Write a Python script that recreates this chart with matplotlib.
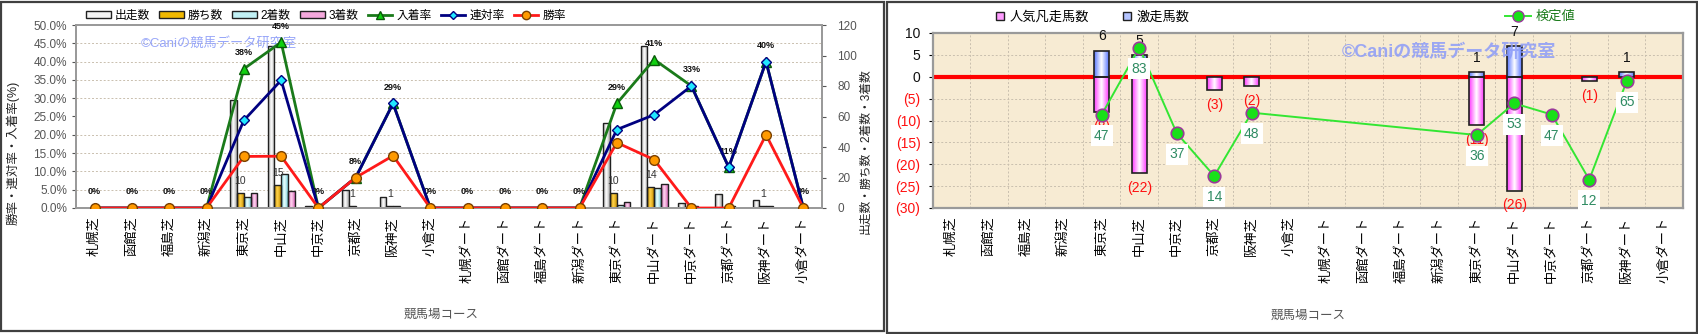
import numpy as np
import matplotlib
matplotlib.use('Agg')
import matplotlib.pyplot as plt
from matplotlib.patches import Patch, Rectangle
from matplotlib.lines import Line2D
from matplotlib.colors import LinearSegmentedColormap
from matplotlib.ticker import MultipleLocator, PercentFormatter, FuncFormatter

plt.rcParams['font.family'] = ['Liberation Sans', 'Noto Sans CJK JP', 'DejaVu Sans']

# コース名
courses = ['札幌芝', '函館芝', '福島芝', '新潟芝', '東京芝', '中山芝', '中京芝', '京都芝', '阪神芝', '小倉芝',
           '札幌ダート', '函館ダート', '福島ダート', '新潟ダート', '東京ダート', '中山ダート', '中京ダート',
           '京都ダート', '阪神ダート', '小倉ダート']

# 左: 出走数・着順
starts = [0, 0, 0, 0, 71, 106, 1, 12, 7, 0, 0, 0, 0, 0, 56, 106, 3, 9, 5, 0]
wins = [0, 0, 0, 0, 10, 15, 0, 1, 1, 0, 0, 0, 0, 0, 10, 14, 0, 0, 1, 0]
seconds = [0, 0, 0, 0, 7, 22, 0, 0, 1, 0, 0, 0, 0, 0, 2, 13, 1, 1, 1, 0]
thirds = [0, 0, 0, 0, 10, 11, 0, 0, 0, 0, 0, 0, 0, 0, 4, 16, 0, 0, 0, 0]

# 右: 激走・凡走・検定値
gekisou = [0, 0, 0, 0, 6, 5, 0, 0, 0, 0, 0, 0, 0, 0, 1, 7, 0, 0, 1, 0]
bonsou = [0, 0, 0, 0, 8, 22, 0, 3, 2, 0, 0, 0, 0, 0, 11, 26, 0, 1, 0, 0]
kentei = [None, None, None, None, 47, 83, 37, 14, 48, None,
          None, None, None, None, 36, 53, 47, 12, 65, None]

W, H = 1699, 334
fig = plt.figure(figsize=(W / 100, H / 100), dpi=100)


def fax(left, top, right, bottom):
    return fig.add_axes([left / W, 1 - bottom / H, (right - left) / W, (bottom - top) / H])


def grad_bars(ax, bars, c_side, c_mid):
    cmap = LinearSegmentedColormap.from_list('g', [c_side, c_mid, c_side])
    g = np.linspace(0, 1, 40).reshape(1, -1)
    for b in bars:
        if b.get_height() == 0:
            b.set_visible(False)
            continue
        x, y, w, h = b.get_x(), b.get_y(), b.get_width(), b.get_height()
        im = ax.imshow(g, extent=(x, x + w, min(y, y + h), max(y, y + h)), aspect='auto',
                       cmap=cmap, zorder=b.get_zorder() - 0.01, interpolation='bilinear')
        im.set_clip_path(b)
        b.set_facecolor('none')


# 枠
fig.add_artist(Rectangle((1 / W, 3 / H), 883 / W, 329 / H, transform=fig.transFigure,
                         fill=False, ec='#404040', lw=1.6))
fig.add_artist(Rectangle((887 / W, 1 / H), 810 / W, 331 / H, transform=fig.transFigure,
                         fill=False, ec='#404040', lw=1.6))

x = np.arange(len(courses))
st = np.array(starts, dtype=float)
safe = np.where(st > 0, st, 1)
win_rate = np.array(wins) / safe
ren_rate = (np.array(wins) + np.array(seconds)) / safe
fuku_rate = (np.array(wins) + np.array(seconds) + np.array(thirds)) / safe

# ---------------- 左グラフ ----------------
axl = fax(76, 25, 822, 208)
axr = axl.twinx()
axl.set_zorder(2)
axl.patch.set_visible(False)
axr.set_facecolor('#f7ebd3')

bw = 0.18
series = [(starts, '#a8a8a8', '#ffffff'), (wins, '#c89000', '#ffd24a'),
          (seconds, '#7fd0dc', '#eaffff'), (thirds, '#d86ab8', '#ffd6f0')]
for k, (vals, cs, cm) in enumerate(series):
    bars = axr.bar(x + (k - 1.5) * bw, vals, width=bw, edgecolor='#202020', linewidth=1.0, zorder=2)
    grad_bars(axr, bars, cs, cm)

for i, v in enumerate(wins):
    if v > 0:
        axr.annotate(str(v), (i - 0.5 * bw, v), xytext=(0, 12), textcoords='offset pixels',
                     ha='center', va='center', fontsize=7.5, color='#333333', zorder=5)

axl.plot(x, fuku_rate, color='#1a7a1a', lw=2, marker='^', ms=7, mfc='#10d010', mec='#0a5a0a', zorder=3)
axl.plot(x, ren_rate, color='#000080', lw=2, marker='D', ms=5, mfc='#20e8ff', mec='#000080', zorder=4)
axl.plot(x, win_rate, color='#ff1a1a', lw=2, marker='o', ms=7, mfc='#ff9a00', mec='#7a4000', zorder=5)

for i, r in enumerate(fuku_rate):
    axl.annotate(f'{round(r * 100)}%', (i, r), xytext=(0, 16), textcoords='offset pixels',
                 ha='center', va='center', fontsize=6.5, fontweight='bold', color='#111111')

axl.set_xlim(-0.5, len(courses) - 0.5)
axl.set_ylim(0, 0.5)
axr.set_ylim(0, 120)
axl.yaxis.set_major_locator(MultipleLocator(0.05))
axl.yaxis.set_major_formatter(PercentFormatter(1, decimals=1))
axr.yaxis.set_major_locator(MultipleLocator(20))
axr.yaxis.set_minor_locator(MultipleLocator(12))
axl.set_xticks(x)
axl.set_xticklabels(courses, rotation=90, fontsize=9.5)
axl.set_xticks(np.arange(-0.5, len(courses), 1), minor=True)
axr.set_axisbelow(True)
axr.grid(which='minor', color='#c9bfae', lw=0.7, ls=(0, (2, 2)))
axl.tick_params(axis='x', which='both', length=0, pad=6)
axl.tick_params(axis='y', labelsize=8.5, colors='#555555', length=3)
axr.tick_params(axis='y', which='major', labelsize=8.5, colors='#555555', length=3, pad=8)
axr.tick_params(axis='y', which='minor', length=0)
for a in (axl, axr):
    for s in a.spines.values():
        s.set_color('#9a9a9a')
        s.set_linewidth(1.4)

axl.set_ylabel('勝率・連対率・入着率(%)', fontsize=9, color='#222222')
axl.yaxis.set_label_coords(-0.076, 0.3)
axr.set_ylabel('出走数・勝ち数・2着数・3着数', fontsize=8.5, color='#222222', rotation=90)
axr.yaxis.set_label_coords(1.05, 0.31)
axl.set_xlabel('競馬場コース', fontsize=9, color='#555555')
axl.xaxis.set_label_coords(0.49, -0.55)

axl.text(0.087, 0.9, '©Caniの競馬データ研究室', transform=axl.transAxes, fontsize=9.5,
         color='#8c9cf8', alpha=0.9, ha='left', va='center', zorder=1)

h_left = [Patch(fc='#f4f4f4', ec='#202020'), Patch(fc='#f0b800', ec='#202020'),
          Patch(fc='#c0f0f4', ec='#202020'), Patch(fc='#f4a8dc', ec='#202020'),
          Line2D([], [], color='#1a7a1a', lw=2, marker='^', ms=6, mfc='#10d010', mec='#0a5a0a'),
          Line2D([], [], color='#000080', lw=2, marker='D', ms=4.5, mfc='#20e8ff', mec='#000080'),
          Line2D([], [], color='#ff1a1a', lw=2, marker='o', ms=6, mfc='#ff9a00', mec='#7a4000')]
fig.legend(h_left, ['出走数', '勝ち数', '2着数', '3着数', '入着率', '連対率', '勝率'],
           loc='center', bbox_to_anchor=(326 / W, 1 - 16 / H), ncol=7, frameon=False,
           fontsize=8.5, handlelength=2.1, handleheight=0.55, handletextpad=0.35, columnspacing=0.75)

# ---------------- 右グラフ ----------------
ax2 = fax(933, 33, 1683, 208)
ax2.set_facecolor('#f7ebd3')
neg = [-v for v in bonsou]
b_neg = ax2.bar(x, neg, width=0.4, edgecolor='#202020', linewidth=1.2, zorder=2)
grad_bars(ax2, b_neg, '#ff3cff', '#ffffff')
b_pos = ax2.bar(x, gekisou, width=0.4, edgecolor='#202020', linewidth=1.2, zorder=2)
grad_bars(ax2, b_pos, '#5a78ff', '#ffffff')
ax2.axhline(0, color='#ff0000', lw=3, zorder=1.5)

for i, v in enumerate(gekisou):
    if v > 0:
        ax2.annotate(str(v), (i, v), xytext=(0, 14), textcoords='offset pixels',
                     ha='center', va='center', fontsize=10, color='#111111', zorder=4)
for i, v in enumerate(bonsou):
    if v > 0:
        ax2.annotate(f'({v})', (i, -v), xytext=(0, -15), textcoords='offset pixels',
                     ha='center', va='center', fontsize=10, color='#ff1010', zorder=4)

ax2.set_xlim(-0.5, len(courses) - 0.5)
ax2.set_ylim(-30, 10)
ax2.yaxis.set_major_locator(MultipleLocator(5))
ax2.yaxis.set_major_formatter(FuncFormatter(lambda v, p: f'({abs(int(v))})' if v < 0 else f'{int(v)}'))
ax2.set_xticks(x)
ax2.set_xticklabels(courses, rotation=90, fontsize=9.5)
ax2.set_xticks(np.arange(-0.5, len(courses), 1), minor=True)
ax2.set_axisbelow(True)
ax2.grid(which='major', axis='y', color='#c9bfae', lw=0.7, ls=(0, (2, 2)))
ax2.grid(which='minor', axis='x', color='#c9bfae', lw=0.7, ls=(0, (2, 2)))
ax2.tick_params(axis='x', which='both', length=0, pad=6)
ax2.tick_params(axis='y', labelsize=10, length=3, pad=6)
for t, v in zip(ax2.get_yticklabels(), ax2.get_yticks()):
    t.set_color('#ff1010' if v < 0 else '#111111')
for s in ax2.spines.values():
    s.set_color('#9a9a9a')
    s.set_linewidth(1.6)
ax2.set_xlabel('競馬場コース', fontsize=9, color='#555555')
ax2.xaxis.set_label_coords(0.5, -0.58)
ax2.text(0.545, 0.89, '©Caniの競馬データ研究室', transform=ax2.transAxes, fontsize=13,
         fontweight='bold', color='#8c9cf8', alpha=0.85, ha='left', va='center', zorder=3)

# 検定値 (隠し軸)
ax3 = ax2.twinx()
ax3.set_ylim(-3.2, 90.8)
ax3.axis('off')
kx = [i for i, v in enumerate(kentei) if v is not None]
ky = [v for v in kentei if v is not None]
ax3.plot(kx, ky, color='#33e633', lw=1.4, marker='o', ms=9, mfc='#19e019', mec='#9a3a9a', mew=1.2, zorder=3)
for i, v in zip(kx, ky):
    ax3.annotate(str(v), (i, v), xytext=(0, -21), textcoords='offset pixels', ha='center', va='center',
                 fontsize=10, color='#2e8b62', zorder=4,
                 bbox=dict(boxstyle='square,pad=0.25', fc='white', ec='none'))

h_r1 = [Line2D([], [], ls='none', marker='s', ms=6, mfc='#ff9cff', mec='#202020'),
        Line2D([], [], ls='none', marker='s', ms=6, mfc='#b4c4ff', mec='#202020')]
fig.legend(h_r1, ['人気凡走馬数', '激走馬数'], loc='center', bbox_to_anchor=(1092 / W, 1 - 17 / H),
           ncol=2, frameon=False, fontsize=9.5, handlelength=0.8, handletextpad=0.3, columnspacing=2.5)
h_r2 = [Line2D([], [], color='#33e633', lw=1.4, marker='o', ms=8, mfc='#19e019', mec='#9a3a9a')]
fig.legend(h_r2, ['検定値'], loc='center', bbox_to_anchor=(1540 / W, 1 - 17 / H), frameon=False,
           fontsize=9.5, handlelength=2.0, handletextpad=0.3, labelcolor='#1a7a1a')

fig.savefig('out.png', dpi=100)
